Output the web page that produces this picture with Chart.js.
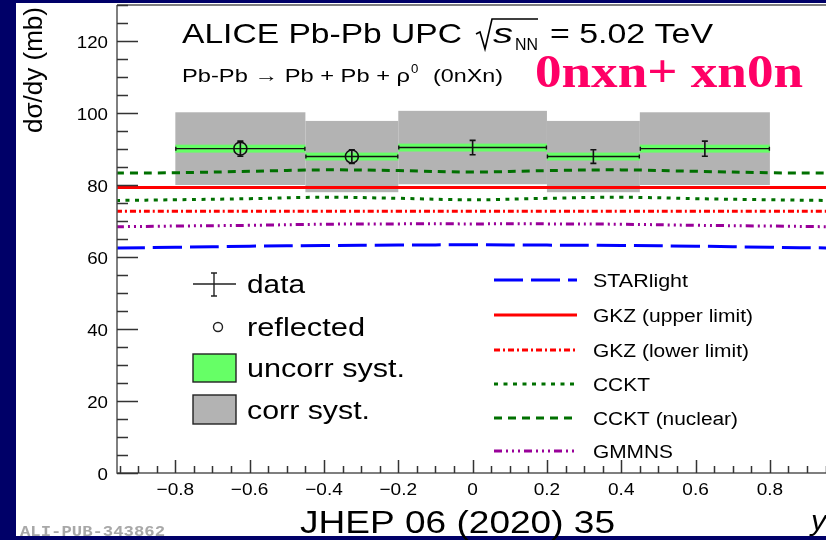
<!DOCTYPE html>
<html>
<head>
<meta charset="utf-8">
<script src="https://cdn.jsdelivr.net/npm/chart.js@4.4.1/dist/chart.umd.min.js"></script>
<style>
  html, body { margin: 0; padding: 0; background: #000068; }
  canvas { display: block; }
</style>
</head>
<body>
<canvas id="grafico" width="826" height="540"></canvas>
<script>
// ── datos: bins en rapidez y sección eficaz medida ──
var binLo      = [-0.8, -0.45, -0.2, 0.2, 0.45];
var binHi      = [-0.45, -0.2, 0.2, 0.45, 0.8];
var binCentro  = [-0.625, -0.325, 0, 0.325, 0.625];
var seccion    = [90.1, 87.9, 90.4, 87.9, 90.1];
var errStat    = [2.1, 1.9, 2.0, 1.9, 2.1];
var sistNoCorr = [1.1, 1.1, 1.1, 1.1, 1.1];
var sistCorr   = [10.1, 9.9, 10.2, 9.9, 10.1];
var reflejado  = [true, true, false, false, false];

// ── modelos teóricos ──
var modeloY     = [-0.96, -0.8, -0.6, -0.4, -0.2, 0, 0.2, 0.4, 0.6, 0.8, 0.96];
var starlight   = [62.5, 62.7, 63.0, 63.2, 63.3, 63.4, 63.3, 63.2, 63.0, 62.7, 62.5];
var gkzSup      = [79.3, 79.3, 79.3, 79.3, 79.3, 79.3, 79.3, 79.3, 79.3, 79.3, 79.3];
var gkzInf      = [72.7, 72.7, 72.7, 72.7, 72.7, 72.7, 72.7, 72.7, 72.7, 72.7, 72.7];
var cckt        = [75.7, 75.9, 76.2, 76.6, 76.3, 75.9, 76.3, 76.6, 76.2, 75.9, 75.7];
var ccktNuclear = [83.3, 83.4, 83.8, 84.2, 84.0, 83.6, 84.0, 84.2, 83.8, 83.4, 83.3];
var gmmns       = [68.4, 68.6, 68.8, 69.1, 69.2, 69.2, 69.2, 69.1, 68.8, 68.6, 68.4];

// ── ejes ──
var ticksX = [-0.8, -0.6, -0.4, -0.2, 0, 0.2, 0.4, 0.6, 0.8];
var etiquetasX = ['\u22120.8', '\u22120.6', '\u22120.4', '\u22120.2', '0', '0.2', '0.4', '0.6', '0.8'];
var ticksY = [0, 20, 40, 60, 80, 100, 120];

var SANS = "'Liberation Sans', Arial, sans-serif";
var SX = 1.17;   // la figura original está estirada en horizontal

var modelos = [
    { label: 'STARlight',         data: starlight,   color: '#0000ff', dash: [29, 8],    ancho: 95 },
    { label: 'GKZ (upper limit)', data: gkzSup,      color: '#ff0000', dash: [],         ancho: 160 },
    { label: 'GKZ (lower limit)', data: gkzInf,      color: '#ff0000', dash: [6, 3, 2, 3], ancho: 156 },
    { label: 'CCKT',              data: cckt,        color: '#007000', dash: [4, 5.5],   ancho: 57 },
    { label: 'CCKT (nuclear)',    data: ccktNuclear, color: '#007000', dash: [8, 6],     ancho: 145 },
    { label: 'GMMNS',             data: gmmns,       color: '#990099', dash: [8, 4, 2, 4, 2, 4, 2, 4], ancho: 80 }
];

function texto(ctx, s, x, y, font, color, align, sx) {
    ctx.save();
    ctx.font = font;
    ctx.fillStyle = color || '#000';
    ctx.textAlign = align || 'left';
    ctx.textBaseline = 'alphabetic';
    ctx.translate(x, y);
    ctx.scale(sx || SX, 1);
    ctx.fillText(s, 0, 0);
    ctx.restore();
}

// texto ajustado a un ancho dado (desde el borde izquierdo)
function textoAncho(ctx, s, x, y, font, ancho, color) {
    ctx.save();
    ctx.font = font;
    var w = ctx.measureText(s).width;
    ctx.restore();
    texto(ctx, s, x, y, font, color, 'left', ancho / w);
}

/* fondo azul + panel blanco */
var fondo = {
    id: 'fondo',
    beforeDraw: function (chart) {
        var ctx = chart.ctx;
        ctx.save();
        ctx.fillStyle = '#000068';
        ctx.fillRect(0, 0, chart.width, chart.height);
        ctx.fillStyle = '#ffffff';
        ctx.fillRect(16, 3, chart.width - 16, 533);
        ctx.restore();
    }
};

/* cajas de sistemáticos (gris = correlacionado, verde = no correlacionado) */
var cajas = {
    id: 'cajas',
    beforeDatasetsDraw: function (chart) {
        var ctx = chart.ctx, sx = chart.scales.x, sy = chart.scales.y;
        ctx.save();
        ctx.fillStyle = '#b3b3b3';
        seccion.forEach(function (v, i) {
            var x0 = sx.getPixelForValue(binLo[i]), x1 = sx.getPixelForValue(binHi[i]);
            var y0 = sy.getPixelForValue(v + sistCorr[i]), y1 = sy.getPixelForValue(v - sistCorr[i]);
            ctx.fillRect(x0, y0, x1 - x0, y1 - y0);
        });
        ctx.fillStyle = '#66ff66';
        seccion.forEach(function (v, i) {
            var x0 = sx.getPixelForValue(binLo[i]), x1 = sx.getPixelForValue(binHi[i]);
            var y0 = sy.getPixelForValue(v + sistNoCorr[i]), y1 = sy.getPixelForValue(v - sistNoCorr[i]);
            ctx.fillRect(x0, y0, x1 - x0, y1 - y0);
        });
        ctx.restore();
    },
    afterDatasetsDraw: function (chart) {
        var ctx = chart.ctx, sx = chart.scales.x, sy = chart.scales.y;
        ctx.save();
        ctx.strokeStyle = '#111';
        seccion.forEach(function (v, i) {
            var x0 = sx.getPixelForValue(binLo[i]), x1 = sx.getPixelForValue(binHi[i]);
            var xc = sx.getPixelForValue(binCentro[i]);
            var yc = sy.getPixelForValue(v);
            var ya = sy.getPixelForValue(v + errStat[i]), yb = sy.getPixelForValue(v - errStat[i]);
            ctx.lineWidth = 1.4;
            ctx.beginPath();
            ctx.moveTo(x0, yc); ctx.lineTo(x1, yc);
            ctx.moveTo(x0 + 0.5, yc - 2); ctx.lineTo(x0 + 0.5, yc + 2);
            ctx.moveTo(x1 - 0.5, yc - 2); ctx.lineTo(x1 - 0.5, yc + 2);
            ctx.stroke();
            ctx.lineWidth = 1.6;
            ctx.beginPath();
            ctx.moveTo(xc, ya); ctx.lineTo(xc, yb);
            ctx.moveTo(xc - 3, ya); ctx.lineTo(xc + 3, ya);
            ctx.moveTo(xc - 3, yb); ctx.lineTo(xc + 3, yb);
            ctx.stroke();
            if (reflejado[i]) {
                ctx.lineWidth = 1.6;
                ctx.beginPath();
                ctx.arc(xc, yc, 6.5, 0, Math.PI * 2);
                ctx.stroke();
            }
        });
        ctx.restore();
    }
};

/* ejes estilo ROOT, marcas hacia dentro, leyendas y textos */
var decoracion = {
    id: 'decoracion',
    afterDraw: function (chart) {
        var ctx = chart.ctx, sx = chart.scales.x, sy = chart.scales.y, a = chart.chartArea;
        ctx.save();
        ctx.strokeStyle = '#555';
        ctx.lineWidth = 1.5;
        ctx.beginPath();
        ctx.moveTo(a.left, a.top); ctx.lineTo(a.left, a.bottom); ctx.lineTo(a.right, a.bottom);
        ctx.moveTo(a.left, a.top); ctx.lineTo(a.right, a.top);
        ctx.stroke();

        // marcas eje Y
        ctx.strokeStyle = '#333';
        ctx.lineWidth = 1.5;
        ctx.beginPath();
        for (var v = 0; v <= sy.max; v += 5) {
            var py = Math.round(sy.getPixelForValue(v)) + 0.5;
            var largo = (v % 20 === 0) ? 21 : 11;
            ctx.moveTo(a.left, py); ctx.lineTo(a.left + largo, py);
        }
        // marcas eje X
        for (var k = -19; k <= 19; k++) {
            var xv = k * 0.05;
            if (xv < sx.min || xv > sx.max) continue;
            var px = Math.round(sx.getPixelForValue(xv)) + 0.5;
            var lx = (k % 4 === 0) ? 13 : 7;
            ctx.moveTo(px, a.bottom); ctx.lineTo(px, a.bottom - lx);
        }
        ctx.stroke();

        ticksY.forEach(function (t) {
            texto(ctx, String(t), a.left - 9, sy.getPixelForValue(t) + 6.5, '17px ' + SANS, '#000', 'right', 1.1);
        });
        ticksX.forEach(function (t, i) {
            texto(ctx, etiquetasX[i], sx.getPixelForValue(t), a.bottom + 22, '17px ' + SANS, '#000', 'center', 1.12);
        });

        // título eje Y (rotado)
        ctx.save();
        ctx.translate(42, 7);
        ctx.rotate(-Math.PI / 2);
        ctx.font = '24px ' + SANS;
        var wt = ctx.measureText('d\u03c3/dy (mb)').width;
        ctx.scale(126 / wt, 1.1);
        ctx.fillStyle = '#000';
        ctx.textAlign = 'right';
        ctx.textBaseline = 'alphabetic';
        ctx.fillText('d\u03c3/dy (mb)', 0, 0);
        ctx.restore();

        texto(ctx, 'y', 811, 530, 'italic 28px ' + SANS, '#000', 'left', 1.1);

        // cabecera
        textoAncho(ctx, 'ALICE Pb-Pb UPC', 182, 43, '28px ' + SANS, 280);
        ctx.strokeStyle = '#000';
        ctx.lineWidth = 1.6;
        ctx.beginPath();
        ctx.moveTo(476, 34); ctx.lineTo(480, 32); ctx.lineTo(485, 49); ctx.lineTo(492, 19); ctx.lineTo(538, 19);
        ctx.stroke();
        textoAncho(ctx, 's', 493, 43, 'italic 28px ' + SANS, 20);
        textoAncho(ctx, 'NN', 515, 50, '17px ' + SANS, 23);
        textoAncho(ctx, '= 5.02 TeV', 550, 43, '28px ' + SANS, 163);

        textoAncho(ctx, 'Pb-Pb \u2192 Pb + Pb + \u03c1', 182, 82, '19px ' + SANS, 228);
        texto(ctx, '0', 411, 73, '12px ' + SANS, '#000', 'left', 1.1);
        textoAncho(ctx, '(0nXn)', 433, 82, '19px ' + SANS, 70);

        textoAncho(ctx, '0nxn+ xn0n', 535, 87, 'bold 46px "Liberation Serif", "Times New Roman", serif', 268, '#ff0066');

        textoAncho(ctx, 'JHEP 06 (2020) 35', 300, 533, '32px ' + SANS, 315);
        textoAncho(ctx, 'ALI-PUB-343862', 20, 536, 'bold 15px "Liberation Mono", "Courier New", monospace', 145, '#a8a8a8');

        // leyenda izquierda
        ctx.strokeStyle = '#222';
        ctx.lineWidth = 1.4;
        ctx.beginPath();
        ctx.moveTo(193, 284); ctx.lineTo(236, 284);
        ctx.moveTo(214, 273); ctx.lineTo(214, 296);
        ctx.moveTo(211, 273); ctx.lineTo(217, 273);
        ctx.moveTo(211, 296); ctx.lineTo(217, 296);
        ctx.stroke();
        ctx.beginPath();
        ctx.arc(218, 327, 4.5, 0, Math.PI * 2);
        ctx.stroke();
        ctx.fillStyle = '#66ff66';
        ctx.fillRect(193, 354, 43, 28);
        ctx.strokeRect(193, 354, 43, 28);
        ctx.fillStyle = '#b3b3b3';
        ctx.fillRect(193, 395, 43, 29);
        ctx.strokeRect(193, 395, 43, 29);
        var izq = ['data', 'reflected', 'uncorr syst.', 'corr syst.'];
        var anchosIzq = [58, 118, 158, 123];
        var filasIzq = [284, 327, 368, 410];
        izq.forEach(function (s, i) {
            textoAncho(ctx, s, 247, filasIzq[i] + 9, '26px ' + SANS, anchosIzq[i]);
        });

        // leyenda derecha
        var filasDer = [280, 315, 350, 384, 418, 451];
        modelos.forEach(function (m, i) {
            ctx.strokeStyle = m.color;
            ctx.lineWidth = 3;
            ctx.setLineDash(m.dash);
            ctx.beginPath();
            ctx.moveTo(494, filasDer[i]); ctx.lineTo(577, filasDer[i]);
            ctx.stroke();
            ctx.setLineDash([]);
            textoAncho(ctx, m.label, 593, filasDer[i] + 6.5, '18px ' + SANS, m.ancho);
        });
        ctx.restore();
    }
};

var datasets = modelos.map(function (m) {
    return {
        label: m.label,
        data: modeloY.map(function (x, i) { return { x: x, y: m.data[i] }; }),
        showLine: true,
        borderColor: m.color,
        borderWidth: 3,
        borderDash: m.dash,
        borderCapStyle: 'butt',
        pointRadius: 0,
        tension: 0.4,
        fill: false
    };
});

new Chart(document.getElementById('grafico'), {
    type: 'scatter',
    data: { datasets: datasets },
    options: {
        responsive: false,
        animation: false,
        devicePixelRatio: 1,
        layout: { padding: { left: 117, top: 5, right: 0, bottom: 67 } },
        plugins: { legend: { display: false }, tooltip: { enabled: false } },
        scales: {
            x: { type: 'linear', min: -0.957, max: 0.951, display: false },
            y: { type: 'linear', min: 0, max: 130, display: false }
        }
    },
    plugins: [fondo, cajas, decoracion]
});
</script>
</body>
</html>
